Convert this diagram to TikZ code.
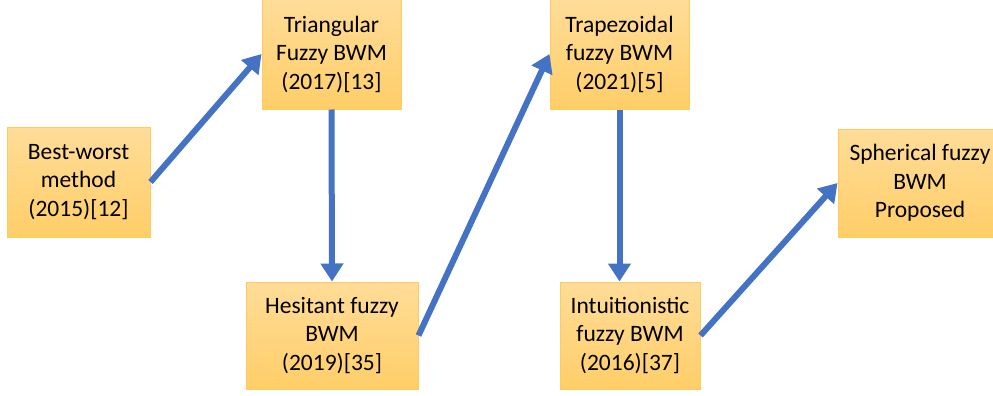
\documentclass[tikz,border=0pt]{standalone}
\usepackage{fontspec}
\setmainfont{Carlito}
\usetikzlibrary{arrows.meta}
\definecolor{boxtop}{RGB}{255,220,152}
\definecolor{boxbot}{RGB}{255,206,104}
\definecolor{boxline}{RGB}{255,204,92}
\definecolor{flow}{RGB}{68,114,196}

\begin{document}
\begin{tikzpicture}[x=1pt, y=-1pt,
    stage/.style={rectangle, draw=boxline, line width=1pt, top color=boxtop, bottom color=boxbot, align=center, inner sep=0pt, font=\fontsize{23.5}{28.5}\selectfont},
    flowarrow/.style={draw=flow, line width=6pt, -{Triangle[width=22pt, length=18pt]}},
  ]
    \useasboundingbox (0,0) rectangle (993,396);

    % Stages
    \node[stage, minimum width=143pt, minimum height=110pt] (bwm) at (78.5,182) {Best-worst\\method\\(2015)[12]};
    \node[stage, minimum width=139pt, minimum height=110pt] (tri) at (331.5,54) {Triangular\\Fuzzy BWM\\(2017)[13]};
    \node[stage, minimum width=172pt, minimum height=107pt] (hes) at (332,335.5) {Hesitant fuzzy\\BWM\\(2019)[35]};
    \node[stage, minimum width=139pt, minimum height=110pt] (trap) at (619.5,54) {Trapezoidal\\fuzzy BWM\\(2021)[5]};
    \node[stage, minimum width=140pt, minimum height=107pt] (int) at (630,335.5) {Intuitionistic\\fuzzy BWM\\(2016)[37]};
    \node[stage, minimum width=164pt, minimum height=108pt] (sph) at (920,183) {Spherical fuzzy\\BWM\\Proposed};

    % Arrows
    \draw[flowarrow] (bwm.east) -- (tri.west);
    \draw[flowarrow] (tri.south) -- (hes.north);
    \draw[flowarrow] (hes.east) -- (trap.west);
    \draw[flowarrow] (trap.south) -- (trap.south |- int.north);
    \draw[flowarrow] (int.east) -- (sph.west);
  \end{tikzpicture}
\end{document}
